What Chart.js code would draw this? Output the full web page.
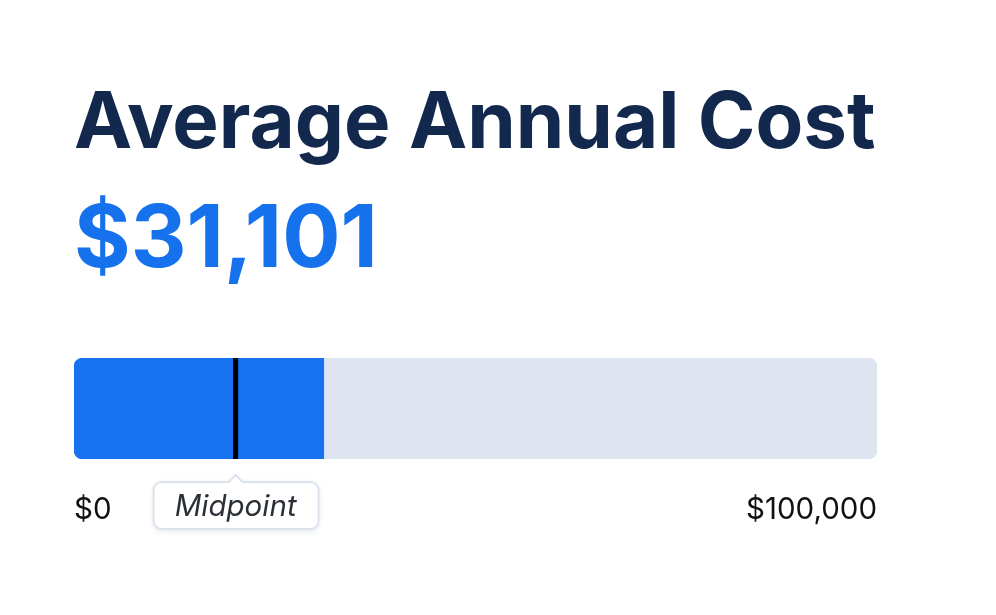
<!DOCTYPE html>
<html>
<head>
<meta charset="utf-8">
<script src="https://cdn.jsdelivr.net/npm/chart.js@4.4.1/dist/chart.umd.min.js"></script>
<style>
  html, body { margin: 0; padding: 0; background: #fff; }
  body { width: 996px; height: 615px; position: relative; overflow: hidden; font-family: Inter, "Noto Sans", sans-serif; }
  #title { position: absolute; left: 74px; top: 81px; font-size: 78px; font-weight: 700; line-height: 1; color: #12284c; white-space: nowrap; }
  #value { position: absolute; left: 74px; top: 193px; font-size: 86.5px; font-weight: 700; line-height: 1; color: #1672ec; white-space: nowrap; }
  #wrap { position: absolute; left: 0; top: 340px; width: 996px; height: 220px; }
</style>
</head>
<body>
<div id="title">Average Annual Cost</div>
<div id="value"></div>
<div id="wrap"><canvas id="costChart"></canvas></div>
<script>
const categories = ['Average Annual Cost'];
const costValues = [31101];
const trackValues = [100000];
const midpointValue = 20000;
const tickLabels = ['$0', '$100,000'];
const tickValues = [0, 100000];

document.getElementById('value').textContent = '$' + costValues[0].toLocaleString('en-US');

// midpoint marker + callout drawn on the x scale
const midpointPlugin = {
    id: 'midpoint',
    afterDatasetsDraw(chart) {
        const { ctx, chartArea, scales } = chart;
        const x = scales.x.getPixelForValue(midpointValue) + 1;
        ctx.save();
        ctx.fillStyle = '#000';
        ctx.fillRect(x - 2.5, chartArea.top, 5, chartArea.bottom - chartArea.top);

        // callout box
        const boxW = 165, boxH = 47, r = 8;
        const left = x - 82, top = chartArea.bottom + 23;
        ctx.shadowColor = 'rgba(30, 50, 90, 0.12)';
        ctx.shadowBlur = 6;
        ctx.shadowOffsetY = 2;
        ctx.beginPath();
        ctx.moveTo(left + r, top);
        ctx.lineTo(x - 7, top);
        ctx.lineTo(x, top - 7);
        ctx.lineTo(x + 7, top);
        ctx.lineTo(left + boxW - r, top);
        ctx.arcTo(left + boxW, top, left + boxW, top + r, r);
        ctx.lineTo(left + boxW, top + boxH - r);
        ctx.arcTo(left + boxW, top + boxH, left + boxW - r, top + boxH, r);
        ctx.lineTo(left + r, top + boxH);
        ctx.arcTo(left, top + boxH, left, top + boxH - r, r);
        ctx.lineTo(left, top + r);
        ctx.arcTo(left, top, left + r, top, r);
        ctx.closePath();
        ctx.fillStyle = '#fff';
        ctx.fill();
        ctx.shadowColor = 'transparent';
        ctx.strokeStyle = '#dde3ee';
        ctx.lineWidth = 2;
        ctx.stroke();

        ctx.fillStyle = '#2b2f36';
        ctx.font = 'italic 29.5px Inter, "Noto Sans", sans-serif';
        ctx.textAlign = 'center';
        ctx.textBaseline = 'alphabetic';
        ctx.fillText('Midpoint', x, top + 34);
        ctx.restore();
    }
};

const ctx = document.getElementById('costChart').getContext('2d');
const costChart = new Chart(ctx, {
    type: 'bar',
    data: {
        labels: categories,
        datasets: [{
            label: 'Cost',
            data: costValues,
            backgroundColor: '#1672ee',
            borderRadius: { topLeft: 9, bottomLeft: 9, topRight: 0, bottomRight: 0 },
            borderSkipped: false,
            barPercentage: 1,
            categoryPercentage: 1
        }, {
            label: 'Range',
            data: trackValues,
            backgroundColor: '#dfe5f0',
            borderRadius: 9,
            borderSkipped: false,
            barPercentage: 1,
            categoryPercentage: 1
        }]
    },
    options: {
        indexAxis: 'y',
        responsive: true,
        maintainAspectRatio: false,
        animation: false,
        layout: { padding: { left: 74, right: 119, top: 18, bottom: 0 } },
        plugins: {
            legend: { display: false },
            tooltip: { enabled: false }
        },
        scales: {
            x: {
                min: 0,
                max: 100000,
                grid: { display: false, drawTicks: false },
                border: { display: false },
                afterBuildTicks(scale) {
                    scale.ticks = tickValues.map(v => ({ value: v }));
                },
                ticks: {
                    align: 'inner',
                    padding: 33,
                    color: '#111',
                    font: { family: 'Inter', size: 29.5 },
                    callback: (v, i) => tickLabels[i]
                }
            },
            y: {
                display: false,
                stacked: true
            }
        },
        datasets: { bar: { grouped: false } }
    },
    plugins: [midpointPlugin]
});
</script>
</body>
</html>
